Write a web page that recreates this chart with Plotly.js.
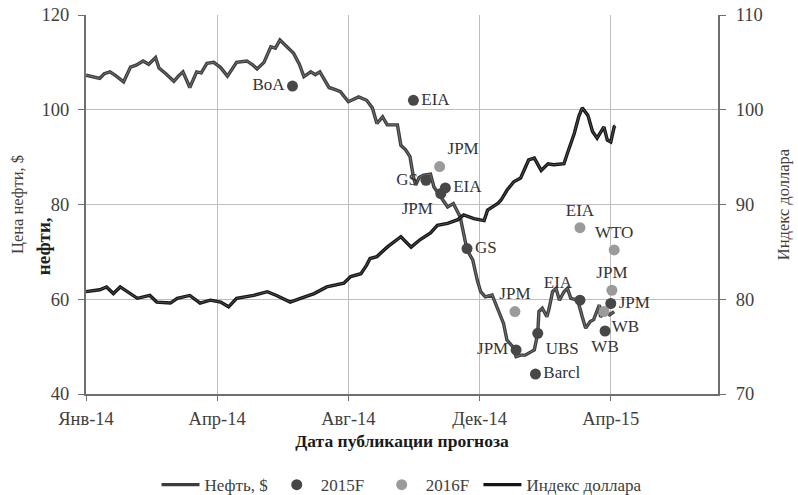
<!DOCTYPE html>
<html>
<head>
<meta charset="utf-8">
<script src="https://cdn.plot.ly/plotly-3.0.1.min.js"></script>
<style>html,body{margin:0;padding:0;background:#fff;}#chart{width:798px;height:495px;}</style>
</head>
<body>
<div id="chart"></div>
<script>
// Brent oil price, $ (left axis)
const oilDates = ['2014-01-01','2014-01-07','2014-01-13','2014-01-17','2014-01-22','2014-01-27','2014-02-03','2014-02-09','2014-02-14','2014-02-20','2014-02-25','2014-03-03','2014-03-06','2014-03-12','2014-03-19','2014-03-23','2014-03-27','2014-04-02','2014-04-08','2014-04-12','2014-04-17','2014-04-23','2014-04-29','2014-05-05','2014-05-09','2014-05-13','2014-05-22','2014-05-27','2014-05-31','2014-06-06','2014-06-12','2014-06-16','2014-06-20','2014-06-25','2014-07-02','2014-07-07','2014-07-11','2014-07-17','2014-07-21','2014-07-25','2014-08-02','2014-08-07','2014-08-12','2014-08-19','2014-08-24','2014-08-28','2014-09-04','2014-09-09','2014-09-13','2014-09-18','2014-09-22','2014-10-01','2014-10-04','2014-10-08','2014-10-12','2014-10-15','2014-10-17','2014-10-20','2014-10-24','2014-10-30','2014-11-02','2014-11-08','2014-11-14','2014-11-19','2014-11-25','2014-11-28','2014-12-01','2014-12-06','2014-12-10','2014-12-13','2014-12-17','2014-12-23','2014-12-28','2015-01-02','2015-01-05','2015-01-10','2015-01-13','2015-01-17','2015-01-21','2015-01-26','2015-01-29','2015-02-01','2015-02-02','2015-02-05','2015-02-09','2015-02-11','2015-02-14','2015-02-17','2015-02-20','2015-02-24','2015-02-27','2015-03-02','2015-03-08','2015-03-12','2015-03-15','2015-03-19','2015-03-22','2015-03-27','2015-03-28','2015-04-02','2015-04-05','2015-04-09'];
const oilValues = [107.3,107.0,106.6,107.6,108,107.2,105.9,109,109.4,110.3,109.6,111,108.8,107.6,106,107.1,108,104.7,108,107.8,109.8,110,108.9,107.1,108.6,110,110.3,109.5,108.6,110,113.3,113.0,114.7,113.6,111.9,109.6,107,108,107.4,108,104.7,104.3,103.8,101.7,102.2,102.7,102,100.4,97.1,98.5,96.8,96.8,92.5,91.6,90.1,85.8,84.1,85.7,86.2,86.4,83.7,81.6,79.5,80.2,77.4,73.9,70.4,68.3,64,61.6,60.5,60.9,57.7,54.9,51.4,50,47.9,48.2,48.2,48.9,49.3,52.8,57.4,58.1,56.3,58.1,61.6,62.3,59.8,61.6,62.3,60.2,59.8,56.3,53.9,55.3,55.7,58.8,56.3,57.4,56.7,57.4];

// Dollar index (right axis)
const usdDates = ['2014-01-01','2014-01-13','2014-01-19','2014-01-25','2014-01-31','2014-02-06','2014-02-15','2014-02-26','2014-03-04','2014-03-16','2014-03-22','2014-04-02','2014-04-11','2014-04-20','2014-04-29','2014-05-06','2014-05-13','2014-05-28','2014-06-09','2014-06-17','2014-06-29','2014-07-08','2014-07-20','2014-07-31','2014-08-15','2014-08-21','2014-08-30','2014-09-04','2014-09-07','2014-09-13','2014-09-22','2014-10-04','2014-10-13','2014-10-21','2014-10-30','2014-11-05','2014-11-14','2014-11-23','2014-11-28','2014-12-07','2014-12-16','2014-12-19','2014-12-28','2014-12-31','2015-01-05','2015-01-11','2015-01-17','2015-01-24','2015-01-29','2015-02-04','2015-02-10','2015-02-15','2015-02-24','2015-02-27','2015-03-05','2015-03-09','2015-03-12','2015-03-17','2015-03-21','2015-03-25','2015-03-31','2015-04-03','2015-04-06','2015-04-09','2015-04-10'];
const usdValues = [80.8,81,81.3,80.6,81.3,80.8,80.1,80.4,79.7,79.6,80.1,80.4,79.6,79.9,79.7,79.2,80.1,80.4,80.8,80.4,79.7,80.1,80.6,81.3,81.7,82.4,82.7,83.6,84.3,84.5,85.5,86.6,85.5,86.3,87,87.8,88,88.4,88.9,88.5,88.3,89.4,90.1,90.5,91.5,92.4,92.8,94.7,94.9,93.6,94.3,94.2,94.3,95.4,97.5,99.3,100.2,99.4,97.7,97,98.2,96.8,96.6,98.2,98.3];

// Forecasts for 2015 (2015F)
const f15Dates = ['2014-07-01','2014-10-15','2014-10-26','2014-11-08','2014-11-12','2014-12-01','2015-01-13','2015-01-30','2015-02-01','2015-03-10','2015-04-01','2015-04-06'];
const f15Values = [105.0,102.0,85.1,82.3,83.5,70.7,49.3,44.2,52.8,59.8,53.3,59.1];
const f15Labels = ['BoA','EIA','GS','JPM','EIA','GS','JPM','Barcl','UBS','EIA','WB','JPM'];
const f15LabelPos = ['middle left','middle right','middle left','bottom left','middle right','middle right','middle left','middle right','bottom right','top left','bottom center','middle right'];

// Forecasts for 2016 (2016F)
const f16Dates = ['2014-11-07','2015-01-12','2015-03-10','2015-03-31','2015-04-07','2015-04-09'];
const f16Values = [88.0,57.4,75.1,57.4,61.9,70.4];
const f16Labels = ['JPM','JPM','EIA','WB','JPM','WTO'];
const f16LabelPos = ['top right','top center','top center','bottom right','top center','top center'];

// X axis ticks
const xTickVals = ['2014-01-01','2014-04-26','2014-08-19','2014-12-12','2015-04-06'];
const xTickText = ['Янв-14','Апр-14','Авг-14','Дек-14','Апр-15'];

const FONT = '"Liberation Serif", "Times New Roman", serif';
const NB = '\u00a0';

const traces = [
  {x: oilDates, y: oilValues, type: 'scatter', mode: 'lines', name: 'Нефть, $',
   line: {color: '#3d3d3d', width: 3.4}, legendrank: 1, yaxis: 'y'},
  {x: oilDates, y: oilValues, type: 'scatter', mode: 'lines', showlegend: false, hoverinfo: 'skip',
   line: {color: '#8a8a8a', width: 0.7}, yaxis: 'y'},
  {x: f15Dates, y: f15Values, type: 'scatter', mode: 'markers+text', name: '2015F' + NB + NB,
   text: f15Labels, textposition: f15LabelPos, textfont: {family: FONT, size: 17, color: '#333'},
   marker: {color: '#474747', size: 11}, legendrank: 2, yaxis: 'y', cliponaxis: false},
  {x: f16Dates, y: f16Values, type: 'scatter', mode: 'markers+text', name: '2016F' + NB,
   text: f16Labels, textposition: f16LabelPos, textfont: {family: FONT, size: 17, color: '#333'},
   marker: {color: '#9b9b9b', size: 11}, legendrank: 3, yaxis: 'y', cliponaxis: false},
  {x: usdDates, y: usdValues, type: 'scatter', mode: 'lines', name: 'Индекс доллара',
   line: {color: '#151515', width: 3.4}, legendrank: 4, yaxis: 'y2'},
  {x: usdDates, y: usdValues, type: 'scatter', mode: 'lines', showlegend: false, hoverinfo: 'skip',
   line: {color: '#777', width: 0.6}, yaxis: 'y2'}
];

const layout = {
  width: 798, height: 495,
  margin: {l: 86, r: 80, t: 15, b: 101},
  paper_bgcolor: '#fff', plot_bgcolor: '#fff',
  font: {family: FONT, size: 18, color: '#404040'},
  showlegend: true,
  legend: {orientation: 'h', x: 0.5, xanchor: 'center', xref: 'paper',
           y: 0.02, yanchor: 'middle', yref: 'container',
           itemwidth: 38,
           font: {family: FONT, size: 17, color: '#404040'}, traceorder: 'normal'},
  xaxis: {
    type: 'date', range: ['2014-01-01', '2015-07-09'],
    tickmode: 'array', tickvals: xTickVals, ticktext: xTickText,
    showgrid: true, gridcolor: '#bdbdbd', gridwidth: 1,
    showline: true, linecolor: '#6f6f6f', linewidth: 2,
    ticks: 'outside', ticklen: 5, tickcolor: '#6f6f6f', ticklabelstandoff: 2,
    tickfont: {family: FONT, size: 18.5, color: '#404040'},
    title: {text: '<b>Дата публикации прогноза</b>', font: {family: FONT, size: 17.5, color: '#1a1a1a'}, standoff: 7},
    zeroline: false, automargin: false
  },
  yaxis: {
    range: [40, 120], tickvals: [40, 60, 80, 100, 120],
    showgrid: true, gridcolor: '#bdbdbd', gridwidth: 1,
    showline: true, linecolor: '#6f6f6f', linewidth: 2,
    ticks: 'outside', ticklen: 6, tickcolor: '#6f6f6f', ticklabelstandoff: 5,
    tickfont: {family: FONT, size: 18.5, color: '#404040'},
    title: {text: 'Цена нефти, $', font: {family: FONT, size: 16.5, color: '#404040'}, standoff: 14},
    zeroline: false, automargin: false
  },
  yaxis2: {
    range: [70, 110], tickvals: [70, 80, 90, 100, 110],
    overlaying: 'y', side: 'right', showgrid: false,
    showline: true, linecolor: '#6f6f6f', linewidth: 2,
    ticks: 'outside', ticklen: 6, tickcolor: '#6f6f6f', ticklabelstandoff: 6,
    tickfont: {family: FONT, size: 18.5, color: '#404040'},
    title: {text: 'Индекс доллара', font: {family: FONT, size: 16.5, color: '#404040'}, standoff: 15},
    zeroline: false, automargin: false
  },
  annotations: [
    {text: '<b>нефти,</b>', xref: 'paper', yref: 'paper', x: -0.068, y: 0.39,
     xanchor: 'center', yanchor: 'middle',
     textangle: -90, showarrow: false, font: {family: FONT, size: 19, color: '#222'}}
  ]
};

Plotly.newPlot('chart', traces, layout, {displayModeBar: false, staticPlot: true});
</script>
</body>
</html>
